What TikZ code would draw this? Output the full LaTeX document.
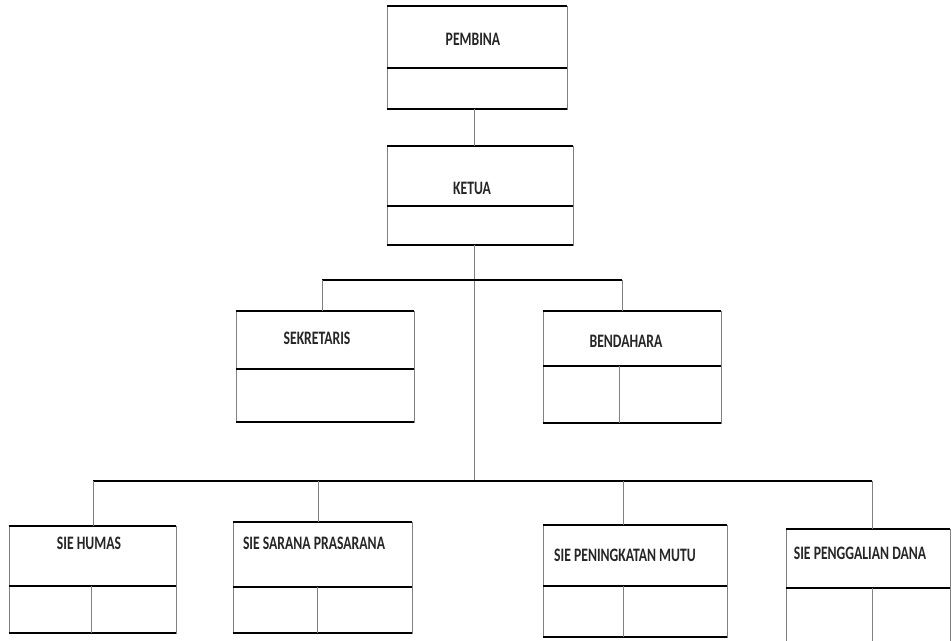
\documentclass[tikz,border=0pt]{standalone}
\usepackage{fontspec}
\setmainfont{Carlito}[FakeStretch=0.72]
\usepackage{xcolor}
\usepackage{tikz}

\tikzset{
  unitbox/.style={draw=black!50, line width=0.6pt, inner sep=0pt},
  rule/.style={draw=black, line width=2pt},
  link/.style={draw=black!50, line width=0.7pt},
  unitname/.style={font=\fontsize{19}{19}\selectfont\bfseries, text=black!85, inner sep=0pt}
}

\begin{document}
\begin{tikzpicture}[x=1pt,y=-1pt]
\useasboundingbox (0,0) rectangle (952,640);
\clip (0,0) rectangle (952,640);

% boxes
\node[unitbox, minimum width=180, minimum height=103] (pembina) at (477,57.5) {};
\node[unitbox, minimum width=186, minimum height=99] (ketua) at (480,195.5) {};
\node[unitbox, minimum width=178, minimum height=111] (sekretaris) at (325,366.5) {};
\node[unitbox, minimum width=178, minimum height=112] (bendahara) at (632,367) {};
\node[unitbox, minimum width=167, minimum height=107] (humas) at (92.5,579.5) {};
\node[unitbox, minimum width=179, minimum height=111] (sarana) at (322.5,577.5) {};
\node[unitbox, minimum width=184, minimum height=112] (mutu) at (635,581) {};
\node[unitbox, minimum width=164, minimum height=121] (dana) at (868,589.5) {};

% top and bottom rules
\foreach \b in {pembina,ketua,sekretaris,bendahara,humas,sarana,mutu,dana}
  \draw[rule] (\b.north west) -- (\b.north east) (\b.south west) -- (\b.south east);

% dividers
\draw[rule] (pembina.west |- 0,68) -- (pembina.east |- 0,68);
\draw[rule] (ketua.west |- 0,206) -- (ketua.east |- 0,206);
\draw[rule] (sekretaris.west |- 0,369) -- (sekretaris.east |- 0,369);
\draw[rule] (bendahara.west |- 0,366) -- (bendahara.east |- 0,366);
\draw[rule] (humas.west |- 0,586) -- (humas.east |- 0,586);
\draw[rule] (sarana.west |- 0,587) -- (sarana.east |- 0,587);
\draw[rule] (mutu.west |- 0,586) -- (mutu.east |- 0,586);
\draw[rule] (dana.west |- 0,588) -- (dana.east |- 0,588);

% split cells
\draw[link] (619,366) -- (bendahara.south -| 619,0);
\draw[link] (91,586) -- (humas.south -| 91,0);
\draw[link] (317,587) -- (sarana.south -| 317,0);
\draw[link] (623,586) -- (mutu.south -| 623,0);
\draw[link] (872,588) -- (dana.south -| 872,0);

% names
\node[unitname] (pembinaText) at (473,39) {PEMBINA};
\node[unitname] (ketuaText) at (472,188) {KETUA};
\node[unitname] (sekretarisText) at (317,338) {SEKRETARIS};
\node[unitname] (bendaharaText) at (626,341) {BENDAHARA};
\node[unitname] (humasText) at (89,543) {SIE HUMAS};
\node[unitname] (saranaText) at (314,543) {SIE SARANA PRASARANA};
\node[unitname] (mutuText) at (625,555) {SIE PENINGKATAN MUTU};
\node[unitname] (danaText) at (860,553) {SIE PENGGALIAN DANA};

% connectors
\coordinate (spine) at (474,0);
\coordinate (busLow) at (474,481);
\coordinate (dropS) at (322,280);
\coordinate (dropB) at (622,280);
\coordinate (dropH) at (93,481);
\coordinate (dropP) at (318,481);
\coordinate (dropM) at (623,481);
\coordinate (dropD) at (872,481);

\draw[link] (pembina.south -| spine) -- (ketua.north -| spine);
\draw[link] (ketua.south -| spine) -- (busLow);
\draw[rule] (dropS) -- (dropB);
\draw[rule] (dropH) -- (dropD);
\draw[link] (dropS) -- (dropS |- sekretaris.north);
\draw[link] (dropB) -- (dropB |- bendahara.north);
\draw[link] (dropH) -- (dropH |- humas.north);
\draw[link] (dropP) -- (dropP |- sarana.north);
\draw[link] (dropM) -- (dropM |- mutu.north);
\draw[link] (dropD) -- (dropD |- dana.north);
\end{tikzpicture}
\end{document}
